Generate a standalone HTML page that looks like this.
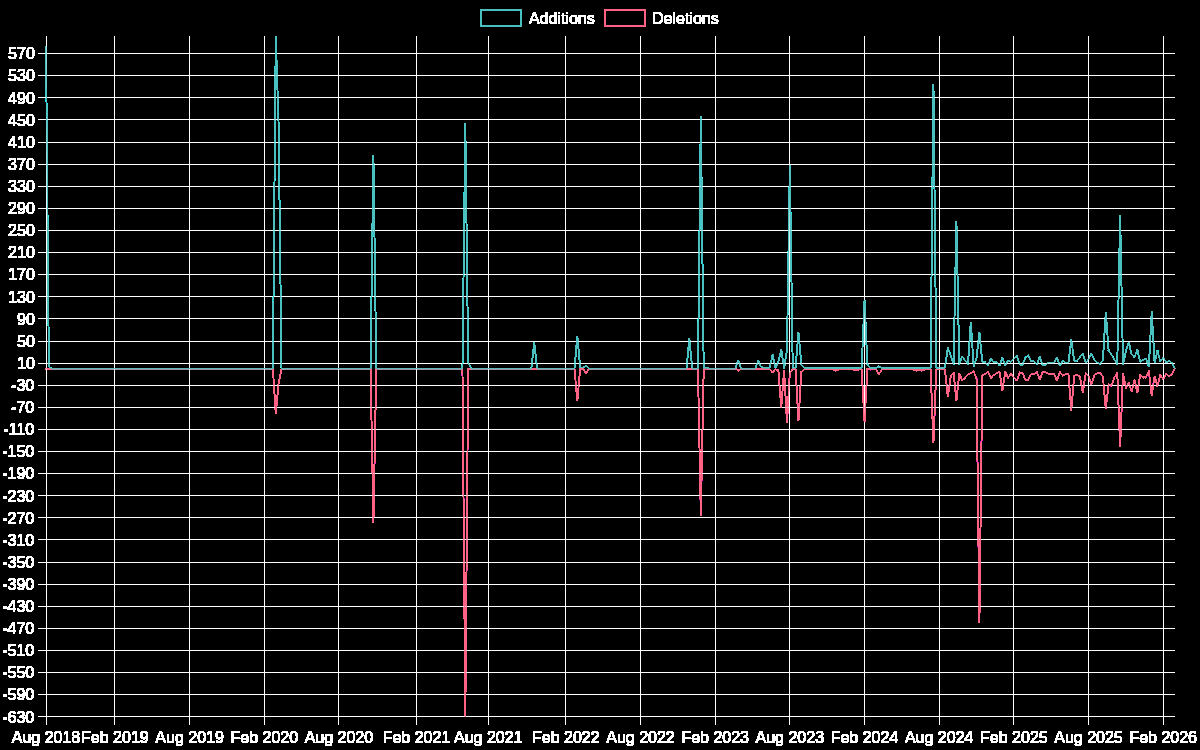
<!DOCTYPE html>
<html><head><meta charset="utf-8"><title>Code frequency</title>
<style>
html,body{margin:0;padding:0;background:#000;}
body{width:1200px;height:750px;overflow:hidden;font-family:"Liberation Sans",sans-serif;}
svg{display:block;}
</style></head><body>
<svg width="1200" height="750" viewBox="0 0 1200 750">
<defs><filter id="f" x="0" y="0" width="1200" height="750" filterUnits="userSpaceOnUse" color-interpolation-filters="sRGB"><feComponentTransfer><feFuncA type="linear" slope="255" intercept="0"/></feComponentTransfer></filter>
<clipPath id="c"><rect x="45.5" y="35.5" width="1130.0" height="681.9"/></clipPath>
</defs>
<rect width="1200" height="750" fill="#000"/>
<g filter="url(#f)">
<path d="M38 53.5H1175M38 75.5H1175M38 97.5H1175M38 119.5H1175M38 142.5H1175M38 164.5H1175M38 186.5H1175M38 208.5H1175M38 230.5H1175M38 252.5H1175M38 274.5H1175M38 296.5H1175M38 318.5H1175M38 341.5H1175M38 363.5H1175M38 385.5H1175M38 407.5H1175M38 429.5H1175M38 451.5H1175M38 473.5H1175M38 495.5H1175M38 517.5H1175M38 539.5H1175M38 562.5H1175M38 584.5H1175M38 606.5H1175M38 628.5H1175M38 650.5H1175M38 672.5H1175M38 694.5H1175M38 716.5H1175M46.5 36V725M114.5 36V725M189.5 36V725M264.5 36V725M338.5 36V725M416.5 36V725M488.5 36V725M565.5 36V725M640.5 36V725M715.5 36V725M789.5 36V725M864.5 36V725M939.5 36V725M1013.5 36V725M1088.5 36V725M1163.5 36V725" stroke="#fff" stroke-width="1" fill="none"/>
<g clip-path="url(#c)" fill="none" stroke-width="1" stroke-linejoin="miter" stroke-linecap="butt">
<path d="M45.75 368.65 L272.89 368.65 L275.76 413.97 L278.63 383.02 L281.50 368.65 L370.54 368.65 L373.41 522.85 L376.28 368.65 L462.44 368.65 L465.31 716.85 L468.18 368.65 L574.45 368.65 L577.32 400.71 L580.19 368.65 L583.06 368.65 L585.94 373.62 L588.81 368.65 L697.94 368.65 L700.82 515.67 L703.69 369.48 L706.56 369.48 L709.43 368.65 L735.28 368.65 L738.15 370.58 L741.02 368.65 L755.38 368.65 L758.26 369.42 L766.87 369.42 L769.74 369.48 L772.62 372.68 L775.49 369.31 L778.36 370.31 L781.23 407.89 L784.10 370.03 L786.98 422.98 L789.85 372.35 L792.72 369.20 L795.59 369.20 L798.46 420.99 L801.34 371.69 L804.21 369.48 L832.93 369.48 L835.80 370.58 L838.67 369.48 L853.03 369.48 L855.90 370.20 L858.78 369.48 L861.65 369.48 L864.52 421.71 L867.39 368.93 L870.26 369.48 L876.01 369.48 L878.88 374.62 L881.75 369.48 L913.34 369.48 L916.22 370.58 L919.09 369.48 L921.96 370.58 L924.83 369.48 L930.58 369.48 L933.45 442.71 L936.32 369.48 L942.06 369.48 L944.94 369.37 L947.81 396.84 L950.68 376.39 L953.55 372.68 L956.42 400.71 L959.30 373.35 L962.17 380.64 L965.04 378.05 L967.91 374.34 L970.78 373.02 L973.66 371.36 L976.53 378.60 L979.40 622.89 L982.27 375.01 L985.14 374.01 L988.02 371.69 L990.89 378.32 L993.76 375.01 L996.63 373.35 L999.50 371.69 L1002.38 390.76 L1005.25 371.69 L1008.12 378.05 L1010.99 373.62 L1013.86 377.49 L1016.74 380.81 L1019.61 372.41 L1022.48 372.80 L1025.35 379.98 L1028.22 379.98 L1031.10 374.01 L1033.97 374.01 L1036.84 371.58 L1039.71 379.98 L1042.58 371.97 L1045.46 372.41 L1048.33 373.62 L1051.20 373.62 L1054.07 374.01 L1056.94 380.53 L1059.82 371.58 L1062.69 375.61 L1065.56 374.01 L1068.43 374.01 L1071.30 410.66 L1074.18 375.61 L1077.05 375.23 L1079.92 376.66 L1082.79 392.69 L1085.66 373.62 L1088.54 376.39 L1091.41 384.40 L1094.28 375.28 L1097.15 373.18 L1100.02 372.41 L1102.90 376.77 L1105.77 408.67 L1108.64 384.40 L1111.51 386.06 L1114.38 377.60 L1117.26 372.80 L1120.13 446.91 L1123.00 373.18 L1125.87 388.22 L1128.74 382.03 L1131.62 391.81 L1134.49 379.98 L1137.36 392.58 L1140.23 374.40 L1143.10 377.22 L1145.98 377.60 L1148.85 370.86 L1151.72 395.79 L1154.59 376.00 L1157.46 386.61 L1160.34 374.73 L1163.21 379.15 L1166.08 373.62 L1168.95 376.00 L1171.82 374.40 L1174.70 368.65" stroke="rgb(255,99,132)"/>
<path d="M46.00 46.43 L48.87 366.72 L51.74 368.65 L272.89 368.65 L275.76 36.26 L278.63 125.46 L281.50 368.65 L370.54 368.65 L373.41 155.31 L376.28 368.65 L462.44 368.65 L465.31 123.58 L468.18 362.57 L471.06 368.65 L531.37 368.65 L534.24 342.67 L537.11 368.65 L574.45 368.65 L577.32 336.04 L580.19 367.54 L583.06 367.54 L585.94 365.89 L588.81 368.65 L686.46 368.65 L689.33 338.25 L692.20 368.65 L697.94 368.65 L700.82 116.07 L703.69 367.54 L706.56 367.54 L709.43 368.65 L735.28 368.65 L738.15 360.36 L741.02 368.65 L755.38 368.65 L758.26 360.36 L761.13 366.99 L764.00 367.71 L766.87 367.71 L769.74 367.54 L772.62 354.83 L775.49 367.82 L778.36 362.02 L781.23 349.31 L784.10 368.37 L786.98 349.58 L789.85 165.26 L792.72 367.82 L795.59 367.82 L798.46 332.17 L801.34 364.78 L804.21 367.77 L861.65 367.77 L864.52 300.12 L867.39 364.23 L870.26 367.77 L876.01 367.77 L878.88 366.44 L881.75 367.77 L930.58 367.77 L933.45 84.01 L936.32 367.77 L942.06 367.77 L944.94 367.82 L947.81 347.43 L950.68 355.94 L953.55 364.23 L956.42 221.08 L959.30 364.62 L962.17 356.21 L965.04 360.36 L967.91 364.50 L970.78 322.22 L973.66 366.11 L976.53 357.60 L979.40 332.17 L982.27 362.02 L985.14 362.35 L988.02 365.33 L990.89 358.43 L993.76 362.35 L996.63 362.35 L999.50 365.33 L1002.38 357.71 L1005.25 365.33 L1008.12 360.36 L1010.99 361.85 L1013.86 358.81 L1016.74 355.50 L1019.61 364.50 L1022.48 364.78 L1025.35 357.60 L1028.22 355.61 L1031.10 361.19 L1033.97 361.19 L1036.84 364.78 L1039.71 356.82 L1042.58 364.78 L1045.46 364.78 L1048.33 362.79 L1054.07 362.79 L1056.94 357.60 L1059.82 366.00 L1062.69 360.80 L1065.56 362.79 L1068.43 362.79 L1071.30 339.63 L1074.18 360.80 L1077.05 360.80 L1079.92 357.21 L1082.79 353.62 L1085.66 362.79 L1088.54 359.25 L1091.41 353.62 L1094.28 359.25 L1097.15 362.40 L1100.02 364.01 L1102.90 360.03 L1105.77 312.00 L1108.64 350.80 L1111.51 354.83 L1114.38 359.59 L1117.26 364.39 L1120.13 215.00 L1123.00 364.39 L1125.87 351.63 L1128.74 342.01 L1131.62 354.39 L1134.49 357.21 L1137.36 349.58 L1140.23 362.02 L1143.10 360.03 L1145.98 358.81 L1148.85 366.44 L1151.72 311.72 L1154.59 362.40 L1157.46 350.80 L1160.34 361.63 L1163.21 357.60 L1166.08 362.40 L1168.95 360.80 L1171.82 362.79 L1174.70 368.43" stroke="rgb(75,192,192)"/>
</g>
<g font-family="Liberation Sans, sans-serif" font-size="16" fill="#fff">
<text x="34.8" y="59.3" text-anchor="end">570</text>
<text x="34.8" y="81.4" text-anchor="end">530</text>
<text x="34.8" y="103.5" text-anchor="end">490</text>
<text x="34.8" y="125.6" text-anchor="end">450</text>
<text x="34.8" y="147.7" text-anchor="end">410</text>
<text x="34.8" y="169.9" text-anchor="end">370</text>
<text x="34.8" y="192.0" text-anchor="end">330</text>
<text x="34.8" y="214.1" text-anchor="end">290</text>
<text x="34.8" y="236.2" text-anchor="end">250</text>
<text x="34.8" y="258.3" text-anchor="end">210</text>
<text x="34.8" y="280.4" text-anchor="end">170</text>
<text x="34.8" y="302.5" text-anchor="end">130</text>
<text x="34.8" y="324.6" text-anchor="end">90</text>
<text x="34.8" y="346.7" text-anchor="end">50</text>
<text x="34.8" y="368.8" text-anchor="end">10</text>
<text x="34.2" y="390.9" text-anchor="end">-30</text>
<text x="34.2" y="413.0" text-anchor="end">-70</text>
<text x="34.2" y="435.1" text-anchor="end">-110</text>
<text x="34.2" y="457.3" text-anchor="end">-150</text>
<text x="34.2" y="479.4" text-anchor="end">-190</text>
<text x="34.2" y="501.5" text-anchor="end">-230</text>
<text x="34.2" y="523.6" text-anchor="end">-270</text>
<text x="34.2" y="545.7" text-anchor="end">-310</text>
<text x="34.2" y="567.8" text-anchor="end">-350</text>
<text x="34.2" y="589.9" text-anchor="end">-390</text>
<text x="34.2" y="612.0" text-anchor="end">-430</text>
<text x="34.2" y="634.1" text-anchor="end">-470</text>
<text x="34.2" y="656.2" text-anchor="end">-510</text>
<text x="34.2" y="678.3" text-anchor="end">-550</text>
<text x="34.2" y="700.4" text-anchor="end">-590</text>
<text x="34.2" y="722.6" text-anchor="end">-630</text>
<text x="46.0" y="742.5" text-anchor="middle">Aug 2018</text>
<text x="114.9" y="742.5" text-anchor="middle">Feb 2019</text>
<text x="189.6" y="742.5" text-anchor="middle">Aug 2019</text>
<text x="264.3" y="742.5" text-anchor="middle">Feb 2020</text>
<text x="338.9" y="742.5" text-anchor="middle">Aug 2020</text>
<text x="416.5" y="742.5" text-anchor="middle">Feb 2021</text>
<text x="488.3" y="742.5" text-anchor="middle">Aug 2021</text>
<text x="565.8" y="742.5" text-anchor="middle">Feb 2022</text>
<text x="640.5" y="742.5" text-anchor="middle">Aug 2022</text>
<text x="715.2" y="742.5" text-anchor="middle">Feb 2023</text>
<text x="789.8" y="742.5" text-anchor="middle">Aug 2023</text>
<text x="864.5" y="742.5" text-anchor="middle">Feb 2024</text>
<text x="939.2" y="742.5" text-anchor="middle">Aug 2024</text>
<text x="1013.9" y="742.5" text-anchor="middle">Feb 2025</text>
<text x="1088.5" y="742.5" text-anchor="middle">Aug 2025</text>
<text x="1163.2" y="742.5" text-anchor="middle">Feb 2026</text>
<text x="528.9" y="23.5">Additions</text>
<text x="652.0" y="23.5">Deletions</text>
</g>
<rect x="481" y="10" width="40" height="16" fill="none" stroke="rgb(75,192,192)" stroke-width="1"/>
<rect x="604.9" y="10" width="40" height="16" fill="none" stroke="rgb(255,99,132)" stroke-width="1"/>
</g>
</svg>
</body></html>
